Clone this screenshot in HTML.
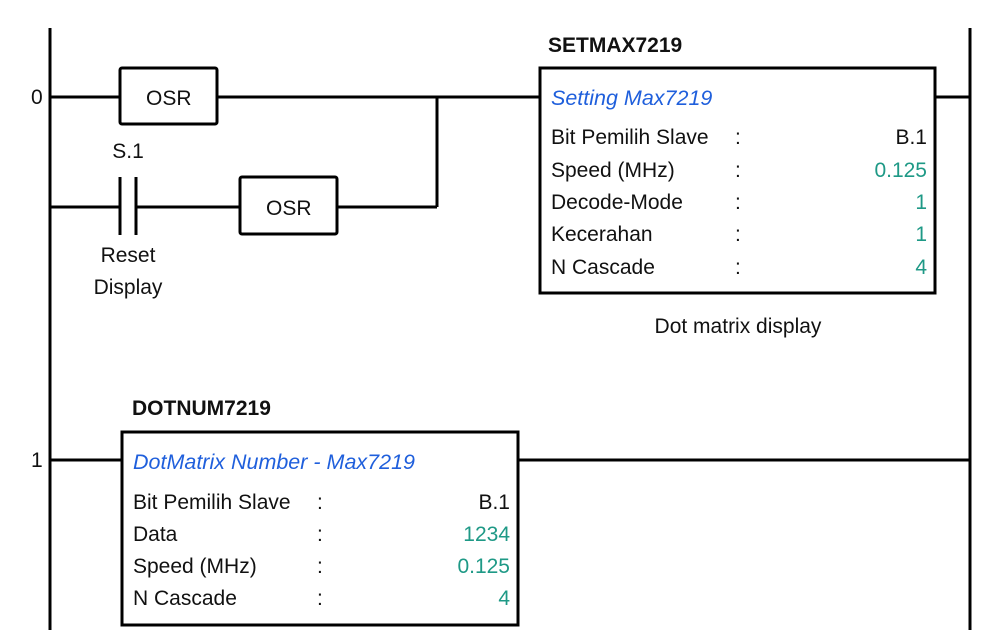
<!DOCTYPE html>
<html><head><meta charset="utf-8">
<style>
html,body{margin:0;padding:0;background:#fff;}
svg{display:block;}
text{font-family:"Liberation Sans",sans-serif;font-size:21px;fill:#111;}
.b{font-weight:bold;font-size:21px;}
.t{font-style:italic;fill:#1f5fdc;font-size:21.5px;}
.v{fill:#1e9986;}
</style></head><body>
<svg width="982" height="643" viewBox="0 0 982 643" xmlns="http://www.w3.org/2000/svg">
<g stroke="#000" stroke-width="3" fill="none">
<line x1="50" y1="28" x2="50" y2="630"/>
<line x1="970" y1="28" x2="970" y2="630"/>
<line x1="50" y1="97" x2="120" y2="97"/>
<rect x="120" y="68" width="97" height="56" rx="2"/>
<line x1="217" y1="97" x2="540" y2="97"/>
<line x1="437" y1="97" x2="437" y2="207"/>
<line x1="50" y1="207" x2="120" y2="207"/>
<line x1="120" y1="177" x2="120" y2="235"/>
<line x1="136" y1="177" x2="136" y2="235"/>
<line x1="136" y1="207" x2="240" y2="207"/>
<rect x="240" y="177" width="97" height="57" rx="2"/>
<line x1="337" y1="207" x2="437" y2="207"/>
<rect x="540" y="68" width="395" height="225"/>
<line x1="935" y1="97" x2="970" y2="97"/>
<line x1="50" y1="460" x2="122" y2="460"/>
<rect x="122" y="432" width="396" height="193"/>
<line x1="518" y1="460" x2="970" y2="460"/>
</g>
<text x="31" y="104">0</text>
<text x="31" y="467">1</text>
<text x="146" y="105">OSR</text>
<text x="266" y="215">OSR</text>
<text x="128" y="158" text-anchor="middle">S.1</text>
<text x="128" y="262" text-anchor="middle">Reset</text>
<text x="128" y="294" text-anchor="middle">Display</text>
<text x="548" y="52" class="b">SETMAX7219</text>
<text x="551" y="105" class="t">Setting Max7219</text>
<text x="551" y="144">Bit Pemilih Slave</text><text x="735" y="144">:</text><text x="927" y="144" text-anchor="end">B.1</text>
<text x="551" y="177">Speed (MHz)</text><text x="735" y="177">:</text><text x="927" y="177" text-anchor="end" class="v">0.125</text>
<text x="551" y="209">Decode-Mode</text><text x="735" y="209">:</text><text x="927" y="209" text-anchor="end" class="v">1</text>
<text x="551" y="241">Kecerahan</text><text x="735" y="241">:</text><text x="927" y="241" text-anchor="end" class="v">1</text>
<text x="551" y="274">N Cascade</text><text x="735" y="274">:</text><text x="927" y="274" text-anchor="end" class="v">4</text>
<text x="738" y="333" text-anchor="middle">Dot matrix display</text>
<text x="132" y="415" class="b">DOTNUM7219</text>
<text x="133" y="469" class="t">DotMatrix Number - Max7219</text>
<text x="133" y="509">Bit Pemilih Slave</text><text x="317" y="509">:</text><text x="510" y="509" text-anchor="end">B.1</text>
<text x="133" y="541">Data</text><text x="317" y="541">:</text><text x="510" y="541" text-anchor="end" class="v">1234</text>
<text x="133" y="573">Speed (MHz)</text><text x="317" y="573">:</text><text x="510" y="573" text-anchor="end" class="v">0.125</text>
<text x="133" y="605">N Cascade</text><text x="317" y="605">:</text><text x="510" y="605" text-anchor="end" class="v">4</text>
</svg>
</body></html>
